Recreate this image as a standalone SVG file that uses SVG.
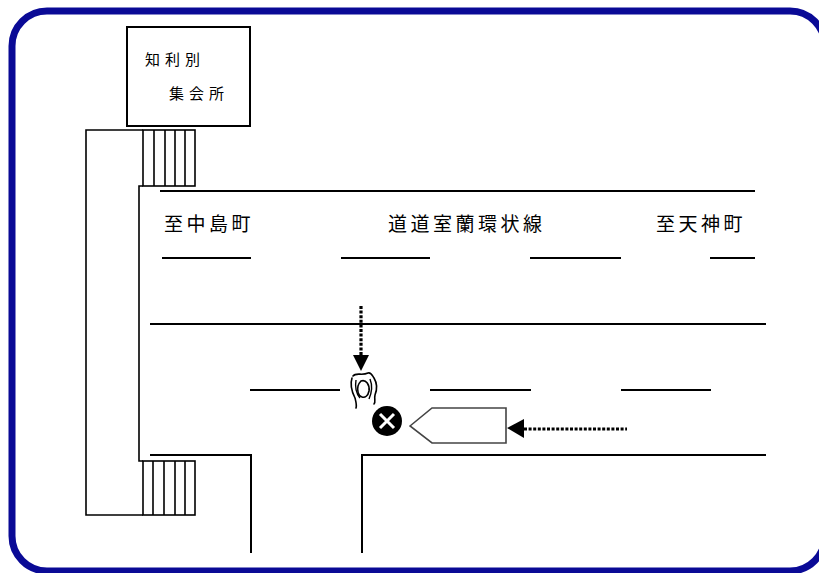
<svg xmlns="http://www.w3.org/2000/svg" width="819" height="573" viewBox="0 0 819 573">
<style>
.ln{fill:none;stroke:#000;stroke-width:2}
.thin{fill:none;stroke:#000;stroke-width:1.6}
.lbl{font-family:"Noto Sans CJK JP","Noto Sans CJK SC",sans-serif;font-size:19px;fill:#000;letter-spacing:3.5px}
.bl{font-family:"Noto Sans CJK JP","Noto Sans CJK SC",sans-serif;font-size:15px;fill:#000;letter-spacing:5px}
.dot{fill:none;stroke:#000;stroke-width:3.2;stroke-dasharray:3 1.6}
</style>
<rect width="819" height="573" fill="#fff"/>
<rect id="frame" x="12" y="11" width="813" height="560" rx="35" ry="35" fill="none" stroke="#0a0a96" stroke-width="7"/>

<g id="building">
<rect x="127" y="27" width="123" height="99" class="ln"/>
<text class="bl" x="145" y="65">知利別</text>
<text class="bl" x="169" y="99">集会所</text>
</g>

<g id="walkway">
<path class="thin" d="M143 130 H86 V515 H143"/>
<path class="thin" d="M143 186 H139 V461 H143"/>
</g>

<g id="stairs-top">
<rect x="143" y="130" width="52" height="56" class="thin"/>
<path class="thin" d="M154 130V186M165 130V186M175 130V186M185 130V186"/>
</g>

<g id="stairs-bottom">
<rect x="143" y="461" width="52" height="54" class="thin"/>
<path class="thin" d="M153 461V515M164 461V515M175 461V515M185 461V515"/>
</g>

<g id="road">
<path class="ln" d="M160 191 H755"/>
<path class="ln" d="M162 258 H251 M341 258 H430 M530 258 H621 M710 258 H755"/>
<path class="ln" d="M150 324 H766"/>
<path class="ln" d="M250 390 H340 M430 390 H531 M621 390 H711"/>
<path class="ln" d="M150 455 H251 V553"/>
<path class="ln" d="M766 455 H362 V553"/>
</g>

<g id="labels">
<text class="lbl" x="164" y="231">至中島町</text>
<text class="lbl" x="388" y="231">道道室蘭環状線</text>
<text class="lbl" x="656" y="231">至天神町</text>
</g>

<g id="person">
<path fill="none" stroke="#000" stroke-width="1.6" stroke-linecap="round" d="M353 376 C356 372 362 376 368 373 C371 372 372 375 374 378 C377 383 377 390 375 395 C374 399 376 402 374 404"/>
<path fill="none" stroke="#000" stroke-width="1.6" stroke-linecap="round" d="M352 378 C350 384 352 392 355 398 C356 402 357 405 356 408"/>
<path fill="none" stroke="#000" stroke-width="1.6" d="M361 381 C366 379 370 385 369 391 C368 396 365 398 362 397 C358 396 357 390 358 386 C359 383 360 382 361 381 Z"/>
<path fill="none" stroke="#000" stroke-width="1.4" d="M356 380 C355 386 356 393 360 398 M370 379 C372 384 372 392 369 399"/>
</g>

<g id="collision">
<circle cx="387" cy="421" r="15" fill="#000"/>
<path d="M380 414 L394 428 M394 414 L380 428" stroke="#fff" stroke-width="3"/>
</g>

<g id="car">
<polygon points="410,426 432,408 506,408 506,443 432,443" fill="#fff" stroke="#444" stroke-width="1.6"/>
</g>

<g id="connectors">
<path class="dot" d="M361 306 V356"/>
<polygon points="353,355 369,355 361,371" fill="#000"/>
<path class="dot" d="M524 429 H627"/>
<polygon points="507,428 524,419 524,438" fill="#000"/>
</g>
</svg>
